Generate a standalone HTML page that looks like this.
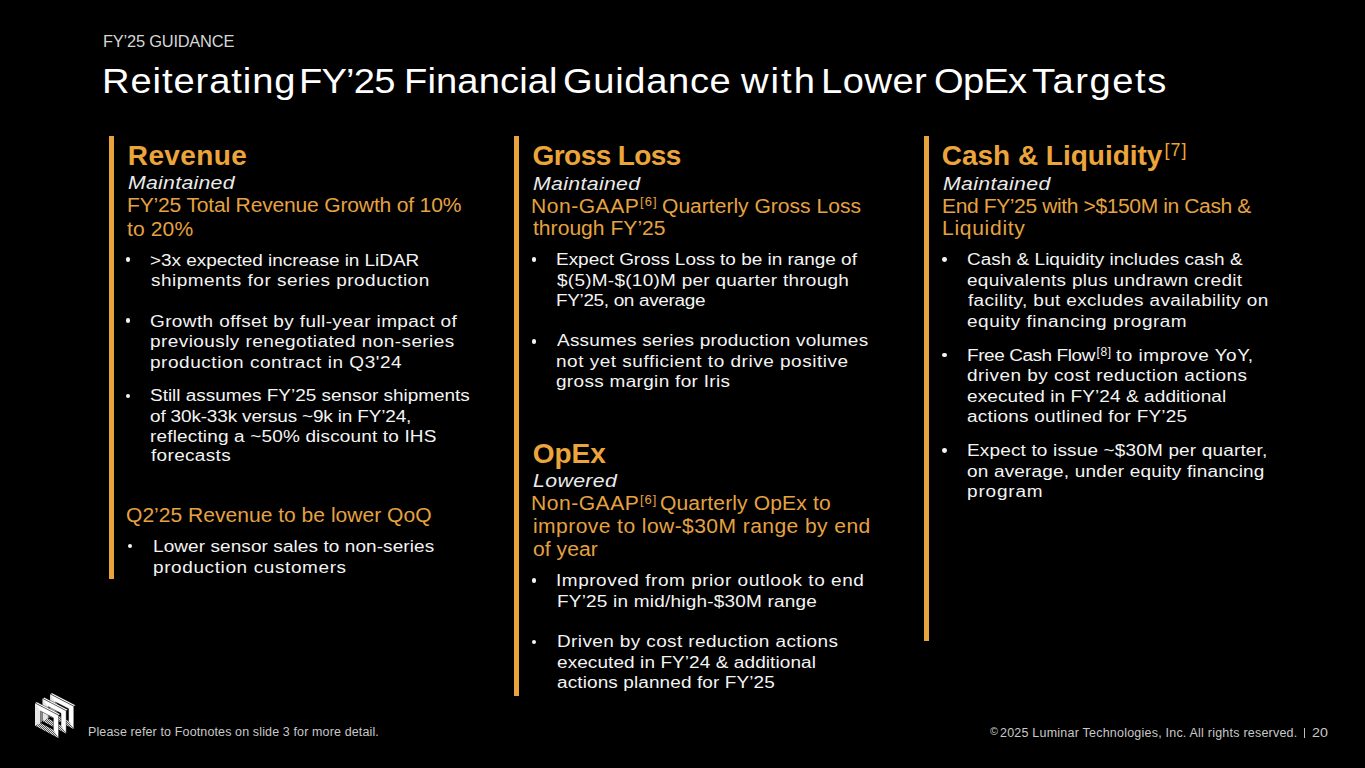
<!DOCTYPE html>
<html><head><meta charset="utf-8"><title>FY25 Guidance</title>
<style>
html,body{margin:0;padding:0;background:#000;}
body{width:1365px;height:768px;position:relative;overflow:hidden;font-family:"Liberation Sans",sans-serif;}
.t{position:absolute;white-space:pre;line-height:1;transform-origin:0 0;}
.bar{position:absolute;background:#e8a33a;}
.dot{position:absolute;width:4.8px;height:4.8px;border-radius:50%;background:#f4f4f4;}
.kick{font-size:15.8px;font-weight:400;font-style:normal;color:#d6d6d6;transform:scaleX(1.04);}
.title{font-size:35.3px;font-weight:400;font-style:normal;color:#ffffff;transform:scaleX(1.08);}
.h{font-size:28px;font-weight:700;font-style:normal;color:#eba53b;}
.it{font-size:19px;font-weight:400;font-style:italic;color:#ebebeb;transform:scaleX(1.12);}
.sub{font-size:19.5px;font-weight:400;font-style:normal;color:#e5a241;transform:scaleX(1.08);}
.b{font-size:17.25px;font-weight:400;font-style:normal;color:#f4f4f4;transform:scaleX(1.1);}
.sup6{font-size:13px;font-weight:400;font-style:normal;color:#e5a241;}
.sup7{font-size:18px;font-weight:400;font-style:normal;color:#eba53b;}
.sup8{font-size:12px;font-weight:400;font-style:normal;color:#f4f4f4;}
.csym{font-size:10.5px;font-weight:400;font-style:normal;color:#c9c9c9;}
.foot{font-size:12px;font-weight:400;font-style:normal;color:#c9c9c9;transform:scaleX(1.04);}
</style></head><body>
<div class="bar" style="left:109.0px;top:136.0px;width:4.5px;height:443.2px"></div>
<div class="bar" style="left:514.3px;top:136.2px;width:4.5px;height:559.6px"></div>
<div class="bar" style="left:924.0px;top:136.2px;width:4.5px;height:504.8px"></div>
<div class="dot" style="left:125.6px;top:256.8px"></div>
<div class="dot" style="left:125.6px;top:318.4px"></div>
<div class="dot" style="left:125.6px;top:393.5px"></div>
<div class="dot" style="left:127.6px;top:543.6px"></div>
<div class="dot" style="left:531.6px;top:256.8px"></div>
<div class="dot" style="left:531.6px;top:338.8px"></div>
<div class="dot" style="left:531.6px;top:577.8px"></div>
<div class="dot" style="left:531.6px;top:639.5px"></div>
<div class="dot" style="left:942.1px;top:256.9px"></div>
<div class="dot" style="left:942.1px;top:352.5px"></div>
<div class="dot" style="left:942.2px;top:448.1px"></div>
<div class="t kick" style="left:102.6px;top:34.2px;letter-spacing:-0.21px;">FY’25 GUIDANCE</div>
<div class="t title" style="left:102.2px;top:62.7px;letter-spacing:0.85px;">Reiterating</div>
<div class="t title" style="left:299.4px;top:62.7px;letter-spacing:-0.74px;">FY’25</div>
<div class="t title" style="left:403.8px;top:62.7px;letter-spacing:0.12px;">Financial</div>
<div class="t title" style="left:563.2px;top:62.7px;letter-spacing:0.61px;">Guidance</div>
<div class="t title" style="left:740.8px;top:62.7px;letter-spacing:1.91px;">with</div>
<div class="t title" style="left:820.6px;top:62.7px;letter-spacing:0.46px;">Lower</div>
<div class="t title" style="left:934.2px;top:62.7px;letter-spacing:-0.68px;">OpEx</div>
<div class="t title" style="left:1032.1px;top:62.7px;letter-spacing:1.42px;">Targets</div>
<div class="t h" style="left:127.8px;top:141.9px;letter-spacing:0.37px;">Revenue</div>
<div class="t it" style="left:128.0px;top:173.4px;letter-spacing:0.24px;">Maintained</div>
<div class="t sub" style="left:126.8px;top:196.4px;letter-spacing:-0.17px;">FY’25 Total Revenue Growth of 10%</div>
<div class="t sub" style="left:127.2px;top:219.6px;letter-spacing:0.11px;">to 20%</div>
<div class="t b" style="left:150.2px;top:251.6px;letter-spacing:-0.04px;">&gt;3x expected increase in LiDAR</div>
<div class="t b" style="left:150.8px;top:271.9px;letter-spacing:0.44px;">shipments for series production</div>
<div class="t b" style="left:150.2px;top:312.9px;letter-spacing:0.36px;">Growth offset by full-year impact of</div>
<div class="t b" style="left:150.2px;top:332.7px;letter-spacing:0.39px;">previously renegotiated non-series</div>
<div class="t b" style="left:150.2px;top:353.5px;letter-spacing:0.50px;">production contract in Q3'24</div>
<div class="t b" style="left:150.2px;top:387.4px;letter-spacing:-0.02px;">Still assumes FY’25 sensor shipments</div>
<div class="t b" style="left:150.2px;top:407.6px;letter-spacing:-0.15px;">of 30k-33k versus ~9k in FY’24,</div>
<div class="t b" style="left:150.2px;top:428.0px;letter-spacing:0.15px;">reflecting a ~50% discount to IHS</div>
<div class="t b" style="left:151.2px;top:447.3px;letter-spacing:0.30px;">forecasts</div>
<div class="t sub" style="left:126.2px;top:505.9px;">Q2’25 Revenue to be lower QoQ</div>
<div class="t b" style="left:152.6px;top:538.2px;letter-spacing:0.08px;">Lower sensor sales to non-series</div>
<div class="t b" style="left:152.6px;top:558.5px;letter-spacing:0.56px;">production customers</div>
<div class="t h" style="left:532.6px;top:141.7px;letter-spacing:-0.58px;">Gross Loss</div>
<div class="t it" style="left:533.0px;top:173.5px;letter-spacing:0.30px;">Maintained</div>
<div class="t sub" style="left:531.2px;top:196.6px;letter-spacing:0.48px;">Non-GAAP</div>
<div class="t sup6" style="left:640.0px;top:195.2px;letter-spacing:1.10px;">[6]</div>
<div class="t sub" style="left:661.8px;top:196.6px;">Quarterly Gross Loss</div>
<div class="t sub" style="left:533.4px;top:218.5px;letter-spacing:0.02px;">through FY’25</div>
<div class="t b" style="left:556.1px;top:250.8px;letter-spacing:-0.02px;">Expect Gross Loss to be in range of</div>
<div class="t b" style="left:557.1px;top:271.5px;letter-spacing:0.24px;">$(5)M-$(10)M per quarter through</div>
<div class="t b" style="left:556.1px;top:291.9px;letter-spacing:-0.32px;">FY’25, on average</div>
<div class="t b" style="left:557.1px;top:332.2px;letter-spacing:0.21px;">Assumes series production volumes</div>
<div class="t b" style="left:556.1px;top:353.4px;letter-spacing:0.47px;">not yet sufficient to drive positive</div>
<div class="t b" style="left:556.1px;top:372.8px;letter-spacing:0.29px;">gross margin for Iris</div>
<div class="t h" style="left:532.7px;top:439.9px;">OpEx</div>
<div class="t it" style="left:533.0px;top:471.4px;letter-spacing:0.33px;">Lowered</div>
<div class="t sub" style="left:531.2px;top:493.9px;letter-spacing:0.48px;">Non-GAAP</div>
<div class="t sup6" style="left:640.0px;top:493.2px;letter-spacing:1.00px;">[6]</div>
<div class="t sub" style="left:660.1px;top:493.9px;letter-spacing:0.12px;">Quarterly OpEx to</div>
<div class="t sub" style="left:532.8px;top:516.5px;letter-spacing:0.39px;">improve to low-$30M range by end</div>
<div class="t sub" style="left:532.8px;top:540.1px;letter-spacing:0.06px;">of year</div>
<div class="t b" style="left:555.8px;top:572.2px;letter-spacing:0.49px;">Improved from prior outlook to end</div>
<div class="t b" style="left:556.8px;top:592.9px;letter-spacing:0.19px;">FY’25 in mid/high-$30M range</div>
<div class="t b" style="left:556.8px;top:633.2px;letter-spacing:0.35px;">Driven by cost reduction actions</div>
<div class="t b" style="left:556.8px;top:654.4px;letter-spacing:0.08px;">executed in FY’24 &amp; additional</div>
<div class="t b" style="left:556.8px;top:674.4px;letter-spacing:0.10px;">actions planned for FY’25</div>
<div class="t h" style="left:941.7px;top:141.6px;letter-spacing:-0.01px;">Cash &amp; Liquidity</div>
<div class="t sup7" style="left:1164.4px;top:141.0px;letter-spacing:1.10px;">[7]</div>
<div class="t it" style="left:942.5px;top:173.5px;letter-spacing:0.32px;">Maintained</div>
<div class="t sub" style="left:941.8px;top:196.6px;letter-spacing:-0.37px;">End FY’25 with &gt;$150M in Cash &amp;</div>
<div class="t sub" style="left:941.8px;top:218.5px;letter-spacing:0.65px;">Liquidity</div>
<div class="t b" style="left:967.3px;top:250.8px;letter-spacing:0.01px;">Cash &amp; Liquidity includes cash &amp;</div>
<div class="t b" style="left:967.3px;top:271.5px;letter-spacing:0.28px;">equivalents plus undrawn credit</div>
<div class="t b" style="left:968.3px;top:291.9px;letter-spacing:0.31px;">facility, but excludes availability on</div>
<div class="t b" style="left:967.3px;top:312.5px;letter-spacing:0.47px;">equity financing program</div>
<div class="t b" style="left:967.3px;top:347.0px;letter-spacing:-0.39px;">Free Cash Flow</div>
<div class="t sup8" style="left:1096.5px;top:345.6px;letter-spacing:0.60px;">[8]</div>
<div class="t b" style="left:1116.1px;top:347.0px;letter-spacing:0.43px;">to improve YoY,</div>
<div class="t b" style="left:967.3px;top:366.7px;letter-spacing:0.42px;">driven by cost reduction actions</div>
<div class="t b" style="left:967.3px;top:387.5px;letter-spacing:0.09px;">executed in FY’24 &amp; additional</div>
<div class="t b" style="left:967.3px;top:408.0px;letter-spacing:0.22px;">actions outlined for FY’25</div>
<div class="t b" style="left:967.3px;top:442.4px;letter-spacing:0.15px;">Expect to issue ~$30M per quarter,</div>
<div class="t b" style="left:967.3px;top:462.9px;letter-spacing:0.17px;">on average, under equity financing</div>
<div class="t b" style="left:967.3px;top:482.6px;letter-spacing:0.76px;">program</div>
<div class="t foot" style="left:87.6px;top:726.3px;letter-spacing:0.13px;">Please refer to Footnotes on slide 3 for more detail.</div>
<div class="t csym" style="left:989.7px;top:726.3px;transform:scaleX(1.038);">©</div>
<div class="t foot" style="left:999.7px;top:726.8px;letter-spacing:0.22px;">2025 Luminar Technologies, Inc. All rights reserved.</div>
<div class="t foot" style="left:1312.3px;top:726.8px;transform:scaleX(1.187);">20</div>
<div style="position:absolute;left:1304px;top:728.3px;width:0.9px;height:10.2px;background:#bdbdbd"></div>
<svg style="position:absolute;left:0;top:0" width="100" height="768" viewBox="0 0 100 768">
<defs><pattern id="hatch" width="2" height="2" patternUnits="userSpaceOnUse"><rect width="2" height="2" fill="#5a5a5a"/><rect width="1" height="1" fill="#dcdcdc"/><rect x="1" y="1" width="1" height="1" fill="#dcdcdc"/></pattern></defs>
<polygon points="50.20,694.00 52.00,692.90 75.60,705.20 73.80,706.30" fill="#ffffff" stroke="#000" stroke-width="0.4"/>
<polygon points="55.40,701.91 57.20,700.81 57.20,713.01 55.40,714.11" fill="#8a8a8a"/>
<path d="M50.20,694.00 73.80,706.30 73.80,728.90 50.20,716.60Z M55.40,701.91 68.60,708.79 68.60,720.99 55.40,714.11Z" fill="#ffffff" fill-rule="evenodd" stroke="#000" stroke-width="0.45"/>
<polygon points="50.20,694.00 55.40,701.91 55.40,714.11 50.20,716.60" fill="#e6e6e6"/>
<polygon points="50.20,716.60 55.40,714.11 68.60,720.99 73.80,728.90" fill="url(#hatch)"/>
<polygon points="42.60,698.50 44.40,697.40 68.00,709.70 66.20,710.80" fill="#ffffff" stroke="#000" stroke-width="0.4"/>
<polygon points="47.80,706.41 49.60,705.31 49.60,717.51 47.80,718.61" fill="#8a8a8a"/>
<path d="M42.60,698.50 66.20,710.80 66.20,733.40 42.60,721.10Z M47.80,706.41 61.00,713.29 61.00,725.49 47.80,718.61Z" fill="#ffffff" fill-rule="evenodd" stroke="#000" stroke-width="0.45"/>
<polygon points="42.60,698.50 47.80,706.41 47.80,718.61 42.60,721.10" fill="#e6e6e6"/>
<polygon points="42.60,721.10 47.80,718.61 61.00,725.49 66.20,733.40" fill="url(#hatch)"/>
<polygon points="35.00,703.00 36.80,701.90 60.40,714.20 58.60,715.30" fill="#ffffff" stroke="#000" stroke-width="0.4"/>
<polygon points="40.20,710.91 42.00,709.81 42.00,722.01 40.20,723.11" fill="#8a8a8a"/>
<path d="M35.00,703.00 58.60,715.30 58.60,737.90 35.00,725.60Z M40.20,710.91 53.40,717.79 53.40,729.99 40.20,723.11Z" fill="#ffffff" fill-rule="evenodd" stroke="#000" stroke-width="0.45"/>
<polygon points="35.00,703.00 40.20,710.91 40.20,723.11 35.00,725.60" fill="#e6e6e6"/>
<polygon points="35.00,725.60 40.20,723.11 53.40,729.99 58.60,737.90" fill="url(#hatch)"/>
</svg>
</body></html>
